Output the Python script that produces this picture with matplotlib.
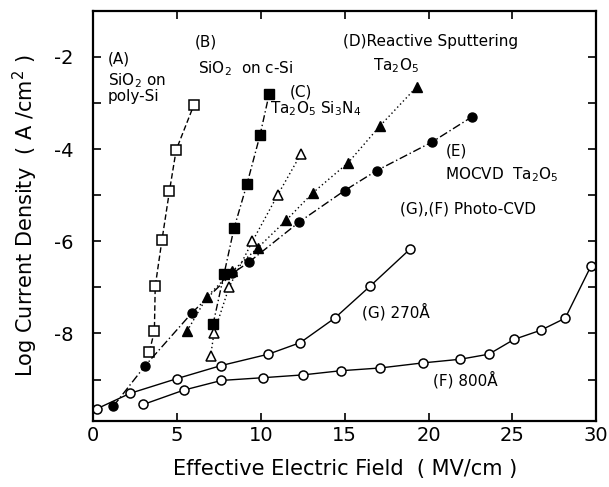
import matplotlib
matplotlib.use("Agg")
import matplotlib.pyplot as plt
from matplotlib.ticker import MultipleLocator, FixedLocator

# (A) SiO2 on poly-Si
a_x = [3.35, 3.65, 3.7, 4.1, 4.55, 4.95, 6.0]
a_y = [-8.4, -7.95, -6.98, -5.98, -4.91, -4.02, -3.05]

# (B) SiO2 on c-Si
b_x = [7.15, 7.8, 8.4, 9.18, 9.95, 10.5]
b_y = [-7.8, -6.72, -5.72, -4.75, -3.7, -2.8]

# (C) Ta2O5 Si3N4
c_x = [7.0, 7.2, 8.1, 9.5, 11.0, 12.4]
c_y = [-8.5, -8.0, -7.0, -6.0, -5.0, -4.1]

# (D) reactive sputtering Ta2O5
d_x = [5.6, 6.8, 8.3, 9.8, 11.5, 13.1, 15.2, 17.1, 19.3]
d_y = [-7.95, -7.2, -6.65, -6.15, -5.55, -4.95, -4.3, -3.5, -2.65]

# (E) MOCVD Ta2O5
e_x = [1.2, 3.1, 5.9, 8.3, 9.3, 12.3, 15.0, 16.9, 20.2, 22.6]
e_y = [-9.58, -8.7, -7.55, -6.7, -6.45, -5.58, -4.9, -4.47, -3.85, -3.3]

# (G) photo-CVD 270 A
g_x = [0.25, 2.2, 5.0, 7.6, 10.45, 12.35, 14.4, 16.5, 18.9]
g_y = [-9.63, -9.3, -8.98, -8.7, -8.45, -8.2, -7.67, -6.98, -6.17]

# (F) photo-CVD 800 A
f_x = [3.0, 5.4, 7.65, 10.15, 12.5, 14.75, 17.1, 19.65, 21.9, 23.6,
       25.1, 26.7, 28.15, 29.7]
f_y = [-9.54, -9.23, -9.02, -8.96, -8.9, -8.81, -8.75, -8.64, -8.56,
       -8.45, -8.13, -7.93, -7.67, -6.53]

fig = plt.figure(figsize=(6.09, 4.87), dpi=100)
ax = fig.add_axes([0.153, 0.1355, 0.826, 0.8425])

k = "black"
lw = 1.0
ax.plot(a_x, a_y, ls=(0, (4, 2)), color=k, lw=lw, marker="s", ms=6.5,
        mfc="white", mec=k, mew=1.1)
ax.plot(b_x, b_y, ls=(0, (5, 2, 1, 2)), color=k, lw=lw, marker="s", ms=7,
        mfc=k, mec=k)
ax.plot(c_x, c_y, ls=(0, (1, 2)), color=k, lw=lw, marker="^", ms=7.5,
        mfc="white", mec=k, mew=1.1)
ax.plot(d_x, d_y, ls=(0, (1, 2)), color=k, lw=lw, marker="^", ms=7.5,
        mfc=k, mec=k)
ax.plot(e_x, e_y, ls=(0, (6, 2, 1, 2)), color=k, lw=lw, marker="o", ms=6.5,
        mfc=k, mec=k)
ax.plot(g_x, g_y, ls="-", color=k, lw=lw, marker="o", ms=6.5,
        mfc="white", mec=k, mew=1.1)
ax.plot(f_x, f_y, ls="-", color=k, lw=lw, marker="o", ms=6.5,
        mfc="white", mec=k, mew=1.1)

fs = 11
ax.text(0.89, -2.04, "(A)", fontsize=fs, va="center")
ax.text(0.89, -2.52, "SiO$_2$ on", fontsize=fs, va="center")
ax.text(0.89, -2.87, "poly-Si", fontsize=fs, va="center")
ax.text(6.08, -1.67, "(B)", fontsize=fs, va="center")
ax.text(6.26, -2.26, "SiO$_2$  on c-Si", fontsize=fs, va="center")
ax.text(11.75, -2.76, "(C)", fontsize=fs, va="center")
ax.text(10.55, -3.13, "Ta$_2$O$_5$ Si$_3$N$_4$", fontsize=fs, va="center")
ax.text(14.9, -1.67, "(D)Reactive Sputtering", fontsize=fs, va="center")
ax.text(16.7, -2.2, "Ta$_2$O$_5$", fontsize=fs, va="center")
ax.text(21.0, -4.05, "(E)", fontsize=fs, va="center")
ax.text(21.0, -4.55, "MOCVD  Ta$_2$O$_5$", fontsize=fs, va="center")
ax.text(18.3, -5.31, "(G),(F) Photo-CVD", fontsize=fs, va="center")
ax.text(16.04, -7.53, "(G) 270Å", fontsize=fs, va="center")
ax.text(20.27, -9.0, "(F) 800Å", fontsize=fs, va="center")

ax.set_xlim(0, 30)
ax.set_ylim(-9.9, -1.0)
ax.xaxis.set_major_locator(MultipleLocator(5))
ax.yaxis.set_major_locator(FixedLocator([-8, -6, -4, -2]))
ax.yaxis.set_minor_locator(FixedLocator([-9, -7, -5, -3]))
ax.set_yticklabels(["-8", "-6", "-4", "-2"])
ax.tick_params(which="both", direction="in", top=True, right=True,
               length=6, width=1.2, labelsize=14)
ax.tick_params(axis="y", pad=14)
for s in ax.spines.values():
    s.set_linewidth(1.6)

ax.set_xlabel("Effective Electric Field  ( MV/cm )", fontsize=15, labelpad=10)
ax.set_ylabel("Log Current Density  ( A /cm$^2$ )", fontsize=15, labelpad=10)

fig.savefig("out.png", dpi=100)
